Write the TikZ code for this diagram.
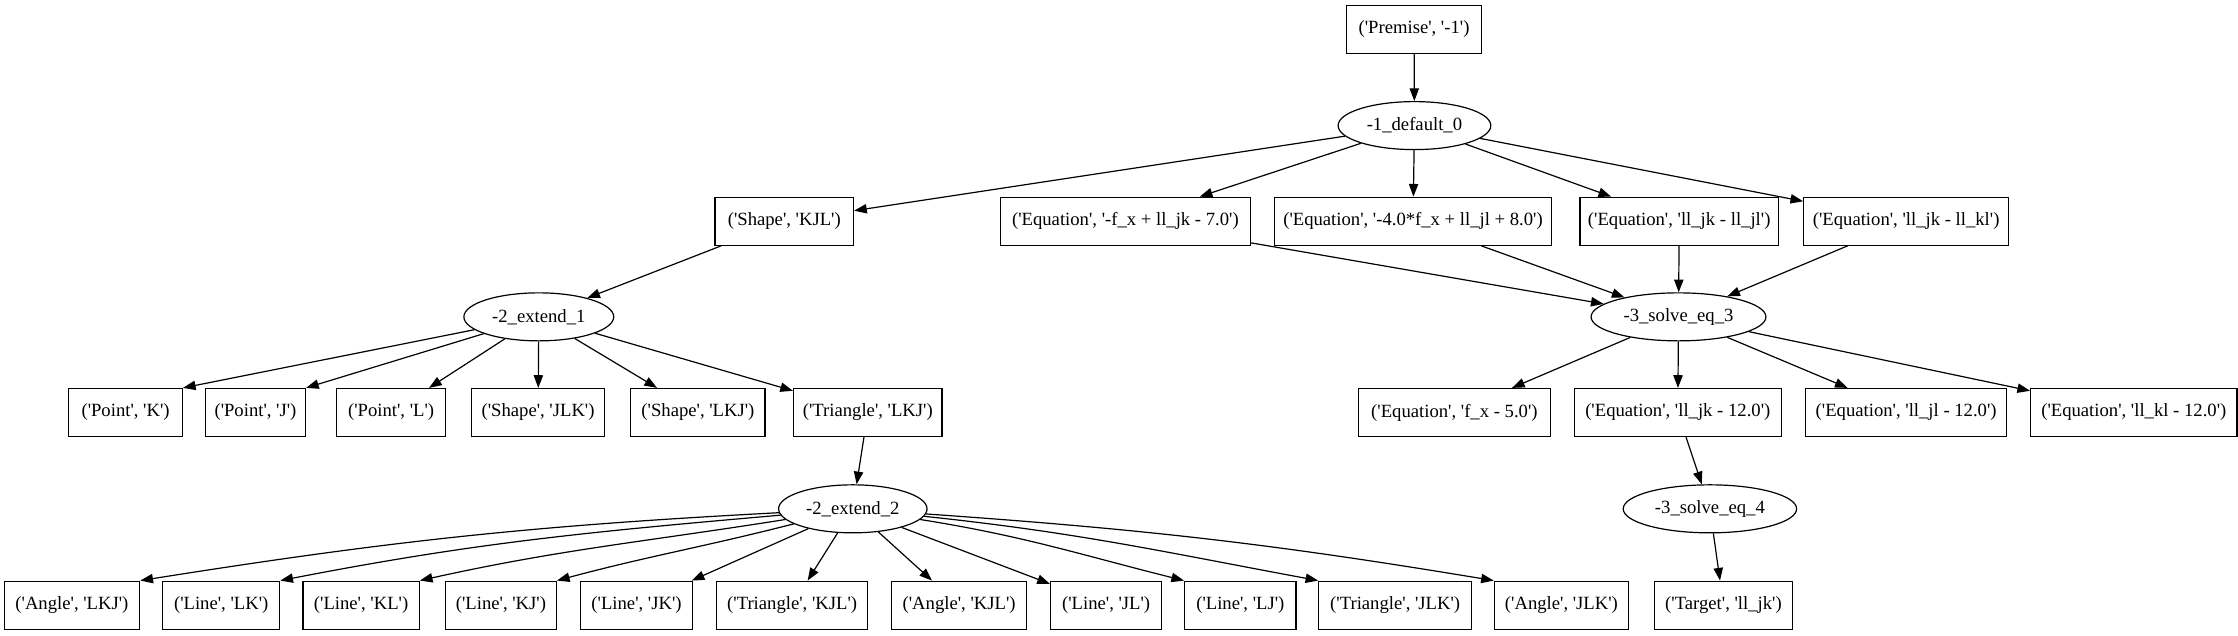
\documentclass[tikz,border=0pt]{standalone}
\usepackage{fontspec}
\setmainfont{Liberation Serif}
\usetikzlibrary{shapes.geometric,arrows.meta}
\newcommand\q{\textquotesingle}
\begin{document}
\begin{tikzpicture}[x=1.0705pt,y=-1.0705pt,
  font=\fontsize{14pt}{16pt}\selectfont,
  w/.style={minimum width=#1*1.0705pt},
  box/.style={draw, rectangle, minimum height=36pt, inner xsep=2pt, line width=0.9pt},
  ell/.style={draw, ellipse, minimum height=36pt, inner sep=0pt, line width=0.9pt},
  arr/.style={-{Triangle[length=9.5pt,width=7pt]}, line width=0.9pt}]
\useasboundingbox (0,0) rectangle (1568,445);
% row 0-1
\node[box,w=94.5] (premise) at (990.7,20.5) {(\q Premise\q, \q-1\q)};
\node[ell,w=107] (d0) at (991,88) {-1\_default\_0};
% row 2
\node[box,w=97] (shapeKJL) at (549.5,155) {(\q Shape\q, \q KJL\q)};
\node[box,w=175] (eq1) at (788.5,155) {(\q Equation\q, \q-f\_x + ll\_jk - 7.0\q)};
\node[box,w=194.5] (eq2) at (990,155) {(\q Equation\q, \q-4.0*f\_x + ll\_jl + 8.0\q)};
\node[box,w=139] (eq3) at (1176.5,155) {(\q Equation\q, \q ll\_jk - ll\_jl\q)};
\node[box,w=143.5] (eq4) at (1335.5,155) {(\q Equation\q, \q ll\_jk - ll\_kl\q)};
% row 3
\node[ell,w=105] (e1) at (377.5,222) {-2\_extend\_1};
\node[ell,w=122.5] (s3) at (1176,222) {-3\_solve\_eq\_3};
% row 4
\node[box,w=79.5] (pK) at (88,289) {(\q Point\q, \q K\q)};
\node[box,w=70] (pJ) at (179,289) {(\q Point\q, \q J\q)};
\node[box,w=76.5] (pL) at (274,289) {(\q Point\q, \q L\q)};
\node[box,w=93.5] (sJLK) at (377,289) {(\q Shape\q, \q JLK\q)};
\node[box,w=94] (sLKJ) at (489,289) {(\q Shape\q, \q LKJ\q)};
\node[box,w=104] (tLKJ) at (608,289) {(\q Triangle\q, \q LKJ\q)};
\node[box,w=134.5] (eqA) at (1019,289) {(\q Equation\q, \q f\_x - 5.0\q)};
\node[box,w=145] (eqB) at (1175.5,289) {(\q Equation\q, \q ll\_jk - 12.0\q)};
\node[box,w=141] (eqC) at (1335.5,289) {(\q Equation\q, \q ll\_jl - 12.0\q)};
\node[box,w=144.5] (eqD) at (1495,289) {(\q Equation\q, \q ll\_kl - 12.0\q)};
% row 5
\node[ell,w=104] (e2) at (597.5,356.5) {-2\_extend\_2};
\node[ell,w=121.5] (s4) at (1198,356.5) {-3\_solve\_eq\_4};
% row 6
\node[box,w=95] (aLKJ) at (50.4,424) {(\q Angle\q, \q LKJ\q)};
\node[box,w=82] (lLK) at (155,424) {(\q Line\q, \q LK\q)};
\node[box,w=81.5] (lKL) at (253,424) {(\q Line\q, \q KL\q)};
\node[box,w=77.6] (lKJ) at (351,424) {(\q Line\q, \q KJ\q)};
\node[box,w=78.5] (lJK) at (446,424) {(\q Line\q, \q JK\q)};
\node[box,w=106] (tKJL) at (555,424) {(\q Triangle\q, \q KJL\q)};
\node[box,w=94.3] (aKJL) at (672,424) {(\q Angle\q, \q KJL\q)};
\node[box,w=78] (lJL) at (775,424) {(\q Line\q, \q JL\q)};
\node[box,w=78] (lLJ) at (869,424) {(\q Line\q, \q LJ\q)};
\node[box,w=107] (tJLK) at (977.5,424) {(\q Triangle\q, \q JLK\q)};
\node[box,w=94] (aJLK) at (1094,424) {(\q Angle\q, \q JLK\q)};
\node[box,w=97] (target) at (1207.5,424) {(\q Target\q, \q ll\_jk\q)};
% edges
\draw[arr] (premise) -- (d0);
\foreach \t in {shapeKJL,eq1,eq2,eq3,eq4} \draw[arr] (d0) -- (\t);
\draw[arr] (shapeKJL) -- (e1);
\draw[arr] (e1) -- (pK.north east);
\draw[arr] (e1) -- (pJ.north east);
\foreach \t in {pL,sJLK,sLKJ,tLKJ} \draw[arr] (e1) -- (\t);
\foreach \t in {eq1,eq2,eq3,eq4} \draw[arr] (\t) -- (s3);
\foreach \t in {eqA,eqB,eqC,eqD} \draw[arr] (s3) -- (\t);
\draw[arr] (tLKJ) -- (e2);
\draw[arr] (eqB) -- (s4);
\draw[arr] (s4) -- (target);
\draw[arr] (e2) to[out=183,in=9] (aLKJ.north east);
\draw[arr] (e2) to[out=185,in=11] (lLK.north east);
\draw[arr] (e2) to[out=189,in=12.5] (lKL.north east);
\draw[arr] (e2) to[out=194.5,in=15] (lKJ.north east);
\draw[arr] (e2) -- (lJK);
\draw[arr] (e2) -- (tKJL);
\draw[arr] (e2) -- (aKJL);
\draw[arr] (e2) -- (lJL);
\draw[arr] (e2) to[out=-9,in=166] (lLJ.north west);
\draw[arr] (e2) to[out=-6,in=169.5] (tJLK.north west);
\draw[arr] (e2) to[out=-4,in=170.6] (aJLK.north west);
\end{tikzpicture}
\end{document}
